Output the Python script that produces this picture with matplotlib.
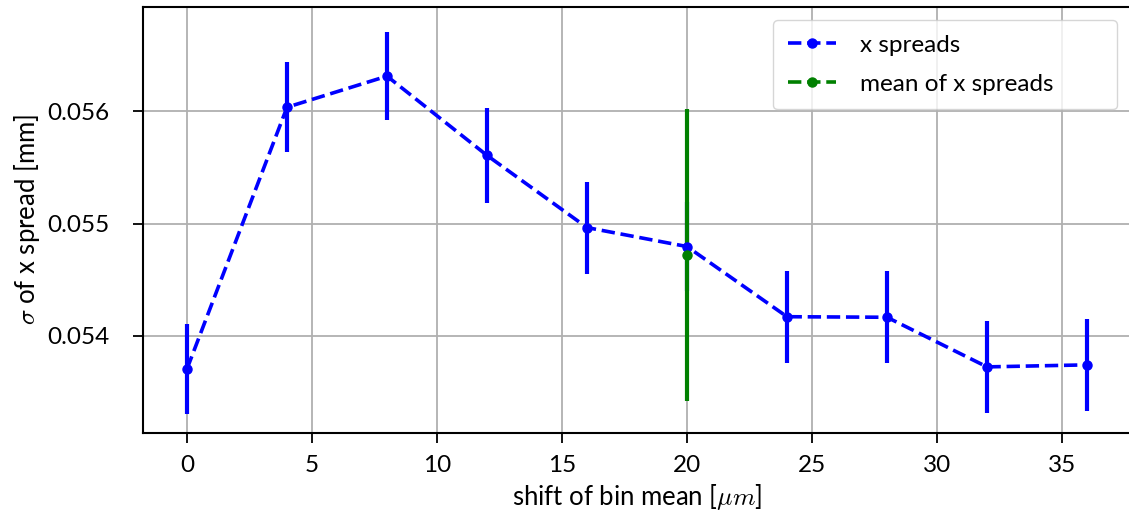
import numpy as np
import matplotlib.pyplot as plt

plt.rcParams['font.family'] = ['Lato', 'DejaVu Sans']
plt.rcParams['mathtext.fontset'] = 'cm'
plt.rcParams['font.size'] = 17.5

# shift of bin mean [um] and the resulting sigma of x spread [mm]
shift = [0, 4, 8, 12, 16, 20, 24, 28, 32, 36]
spread = [0.053705, 0.056036, 0.056313, 0.055607, 0.054964,
          0.054795, 0.054170, 0.054165, 0.053723, 0.053741]
spread_err = [0.00040, 0.00040, 0.00039, 0.00042, 0.00041,
              0.00040, 0.00041, 0.00041, 0.00041, 0.00041]

mean_shift = [20]
mean_spread = [0.054723]
mean_err = [0.0013]

fig = plt.figure(figsize=(11.29, 5.19), dpi=100)
ax = fig.add_axes([143 / 1129, 1 - 433 / 519, (1132 - 143) / 1129, (433 - 7) / 519])

c1 = ax.errorbar(shift, spread, yerr=spread_err, fmt='o--', color='blue',
                 lw=2.6, elinewidth=3, markersize=6.5)
c2 = ax.errorbar(mean_shift, mean_spread, yerr=mean_err, fmt='o--', color='green',
                 lw=2.6, elinewidth=3, markersize=6.5)

ax.set_xlim(-1.76, 37.8)
ax.set_ylim(0.053134, 0.056929)
ax.set_xticks([0, 5, 10, 15, 20, 25, 30, 35])
ax.set_yticks([0.054, 0.055, 0.056])
ax.grid(True, lw=1.3)
ax.set_axisbelow(True)
ax.tick_params(width=1.3, length=7)
ax.tick_params(axis='y', pad=17)
ax.tick_params(axis='x', pad=9)
for s in ax.spines.values():
    s.set_linewidth(1.5)

ax.set_xlabel(r'shift of bin mean [$\mu m$]', fontsize=18.5)
ax.set_ylabel(r'$\sigma$ of x spread [mm]', fontsize=18.5)
ax.legend([c1.lines[0], c2.lines[0]], ['x spreads', 'mean of x spreads'],
          loc='upper left', bbox_to_anchor=(0.637, 0.5, 0.348, 0.4695),
          mode='expand', borderaxespad=0, borderpad=0.6, labelspacing=0.75,
          handletextpad=1.0)

fig.savefig('out.png', dpi=100)
